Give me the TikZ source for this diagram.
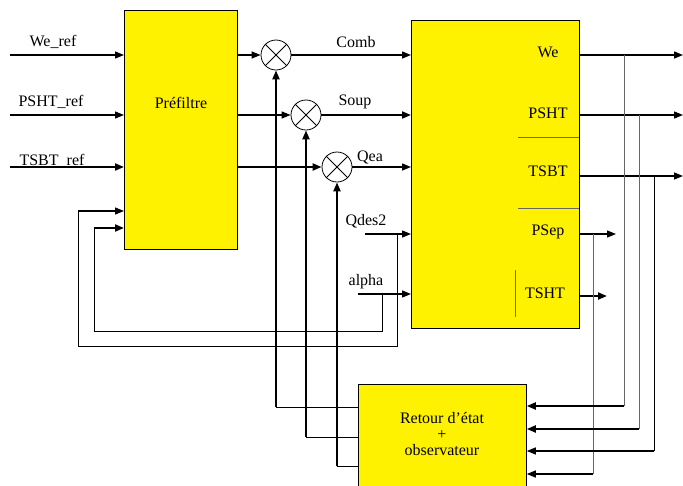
\documentclass[tikz,border=0pt]{standalone}
\usepackage{fontspec}
\setmainfont{Liberation Serif}
\usetikzlibrary{arrows.meta}
\begin{document}
\begin{tikzpicture}[x=1pt,y=-1pt,
  box/.style={draw=black, fill=yellow, line width=0.8pt, inner sep=0pt},
  lbl/.style={font=\fontsize{16}{18}\selectfont, inner sep=0pt},
  arr/.style={-{Triangle[length=9pt,width=7pt]}},
  med/.style={line width=1.3pt},
  thk/.style={line width=2pt},
  fine/.style={line width=0.8pt, draw=black!60},
  fineblk/.style={line width=0.8pt, draw=black},
  mult/.style={circle, draw, fill=white, minimum size=30pt, inner sep=0pt, line width=0.8pt}]
\useasboundingbox (0,0) rectangle (683,485);
\begin{scope}
\clip (0,0) rectangle (683,485);
% blocks
\node[box, minimum width=113pt, minimum height=239pt, anchor=north west] (pre) at (124,10) {};
\node[box, minimum width=168pt, minimum height=308pt, anchor=north west] (big) at (411,20) {};
\node[box, minimum width=168pt, minimum height=110pt, anchor=north west] (ret) at (358,384) {};
\end{scope}
\node[lbl] (tpre) at (181,103) {Préfiltre};
\node[lbl, align=center] (tret) at (442,434) {Retour d’état\\[-2pt]+\\[-2pt]observateur};
% internal marks of the big block
\draw[fine] (518,137) -- (579,137);
\draw[fine] (518,208) -- (579,208);
\draw[fine] (515,270) -- (515,317);
% output labels in big block
\node[lbl] (lWe) at (548,52) {We};
\node[lbl] (lPSHT) at (548,113) {PSHT};
\node[lbl] (lTSBT) at (548,171) {TSBT};
\node[lbl] (lPSep) at (548,232) {PSep};
\node[lbl] (lTSHT) at (545,293) {TSHT};
% multipliers
\node[mult] (c1) at (276,55) {};
\node[mult] (c2) at (306,115) {};
\node[mult] (c3) at (337,167) {};
\foreach \c in {c1,c2,c3}{
  \draw[line width=0.8pt] (\c.north west) -- (\c.south east) (\c.north east) -- (\c.south west);
}
% inputs
\coordinate (i1) at (10,55);
\coordinate (i2) at (10,115);
\coordinate (i3) at (10,167);
\draw[med,arr] (i1) -- (i1 -| pre.west);
\draw[med,arr] (i2) -- (i2 -| pre.west);
\draw[thk,arr] (i3) -- (i3 -| pre.west);
\node[lbl] (lWeref) at (53,42) {We\_ref};
\node[lbl] (lPSHTref) at (51,102) {PSHT\_ref};
\node[lbl] (lTSBTref) at (52,161) {TSBT\_ref};
% prefilter -> multipliers -> big block
\draw[med,arr] (pre.east |- c1) -- (c1.west);
\draw[med,arr] (pre.east |- c2) -- (c2.west);
\draw[thk,arr] (pre.east |- c3) -- (c3.west);
\draw[med,arr] (c1.east) -- (c1 -| big.west);
\draw[thk,arr] (c2.east) -- (c2 -| big.west);
\draw[med,arr] (c3.east) -- (c3 -| big.west);
\node[lbl] (lComb) at (356,42) {Comb};
\node[lbl] (lSoup) at (355,102) {Soup};
\node[lbl] (lQea) at (370,157) {Qea};
% Qdes2, alpha
\coordinate (qd) at (365,234);
\coordinate (al) at (358,294);
\draw[med,arr] (qd) -- (qd -| big.west);
\draw[med,arr] (al) -- (al -| big.west);
\node[lbl] (lQdes) at (366,221) {Qdes2};
\node[lbl] (lalpha) at (366,282) {alpha};
% feedback loops to prefilter
\coordinate (fq) at (397,234);
\coordinate (fa) at (382,294);
\coordinate (f1) at (78,211);
\coordinate (f2) at (94,228);
\draw[fineblk] (fq) -- (397,346) -- (78,346) -- (f1);
\draw[fineblk] (fa) -- (382,331) -- (94,331) -- (f2);
\draw[med,arr] (f1) -- (f1 -| pre.west);
\draw[thk,arr] (f2) -- (f2 -| pre.west);
% state feedback to multipliers
\coordinate (r1) at (276,407);
\coordinate (r2) at (306,437);
\coordinate (r3) at (337,466);
\draw[fineblk] (ret.west |- r1) -- (r1);
\draw[fineblk] (ret.west |- r2) -- (r2);
\draw[fineblk] (ret.west |- r3) -- (r3);
\draw[thk,arr] (r1) -- (c1.south);
\draw[thk,arr] (r2) -- (c2.south);
\draw[thk,arr] (r3) -- (c3.south);
% outputs
\coordinate (o1) at (683,55);
\coordinate (o2) at (683,115);
\coordinate (o3) at (683,176);
\coordinate (o4) at (616,234);
\coordinate (o5) at (607,296);
\draw[med,arr] (o1 -| big.east) -- (o1);
\draw[med,arr] (o2 -| big.east) -- (o2);
\draw[med,arr] (o3 -| big.east) -- (o3);
\draw[med,arr] (o4 -| big.east) -- (o4);
\draw[thk,arr] (o5 -| big.east) -- (o5);
% measurements to observer
\coordinate (m1) at (624,406);
\coordinate (m2) at (639,429);
\coordinate (m3) at (654,451);
\coordinate (m4) at (593,474);
\draw[fine] (m1 |- o1) -- (m1);
\draw[fine] (m2 |- o2) -- (m2);
\draw[fineblk] (m3 |- o3) -- (m3);
\draw[fine] (m4 |- o4) -- (m4);
\draw[thk,arr] (m1) -- (m1 -| ret.east);
\draw[thk,arr] (m2) -- (m2 -| ret.east);
\draw[med,arr] (m3) -- (m3 -| ret.east);
\draw[med,arr] (m4) -- (m4 -| ret.east);
\end{tikzpicture}
\end{document}
